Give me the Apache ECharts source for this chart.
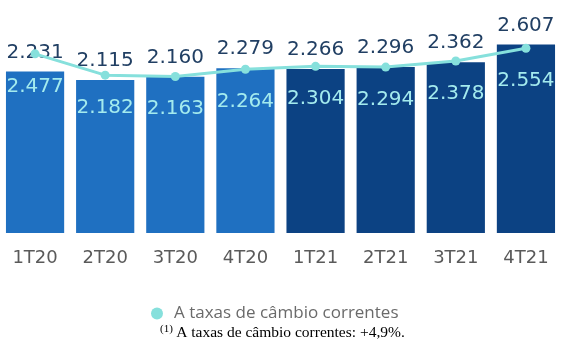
<!DOCTYPE html>
<html>
<head>
<meta charset="utf-8">
<script src="https://cdn.jsdelivr.net/npm/echarts@6/dist/echarts.min.js"></script>
<style>
  html, body { margin: 0; padding: 0; background: #ffffff; }
  #chart { width: 561px; height: 341px; }
</style>
</head>
<body>
<div id="chart"></div>
<script>
// Quarterly figures (thousands, pt-BR notation on labels)
const quarters = ['1T20', '2T20', '3T20', '4T20', '1T21', '2T21', '3T21', '4T21'];
const constantRates = [2231, 2115, 2160, 2279, 2266, 2296, 2362, 2607];
const currentRates = [2477, 2182, 2163, 2264, 2304, 2294, 2378, 2554];
const lineName = 'A taxas de câmbio correntes';
const footnote = 'A taxas de câmbio correntes: +4,9%.';

const fmt = v => (v / 1000).toFixed(3);

const chart = echarts.init(document.getElementById('chart'), null, { renderer: 'canvas' });

chart.setOption({
  animation: false,
  backgroundColor: '#ffffff',
  grid: { left: 0, right: -5, top: 16, bottom: 108 },
  legend: {
    data: [{ name: lineName, icon: 'circle' }],
    left: 146,
    top: 300,
    itemWidth: 12,
    itemHeight: 12,
    textStyle: { fontFamily: 'Open Sans', fontSize: 17, color: '#6a6a6a', padding: [0, 0, 0, 6] }
  },
  xAxis: {
    type: 'category',
    data: quarters,
    axisLine: { show: false },
    axisTick: { show: false },
    axisLabel: {
      margin: 16,
      fontFamily: 'DejaVu Sans',
      fontSize: 18,
      color: '#5a5a5a'
    }
  },
  yAxis: {
    type: 'value',
    min: 0,
    max: 3000,
    show: false,
    splitLine: { show: false }
  },
  series: [
    {
      name: 'constante',
      type: 'bar',
      data: constantRates,
      barCategoryGap: '17%',
      itemStyle: {
        color: p => (quarters[p.dataIndex].endsWith('20') ? '#1f70c1' : '#0c4283')
      },
      label: {
        show: true,
        position: 'top',
        distance: 9,
        formatter: p => fmt(p.value),
        fontFamily: 'DejaVu Sans',
        fontSize: 20,
        color: '#213f63'
      },
      z: 2
    },
    {
      name: lineName,
      type: 'line',
      data: currentRates,
      symbol: 'circle',
      symbolSize: 9,
      lineStyle: { color: '#86e0dc', width: 3 },
      itemStyle: { color: '#86e0dc' },
      label: {
        show: true,
        position: 'bottom',
        distance: 18,
        formatter: p => fmt(p.value),
        fontFamily: 'DejaVu Sans',
        fontSize: 20,
        color: '#a4ebee'
      },
      z: 3
    }
  ],
  graphic: [
    {
      type: 'text',
      left: 160,
      top: 324,
      style: {
        text: '{sup|(1)} {main|' + footnote + '}',
        rich: {
          sup: { fontFamily: 'Liberation Serif', fontSize: 11, color: '#333333', verticalAlign: 'top', padding: [0, 0, 6, 0] },
          main: { fontFamily: 'Liberation Serif', fontSize: 15.5, color: '#333333' }
        }
      }
    }
  ]
});
</script>
</body>
</html>
